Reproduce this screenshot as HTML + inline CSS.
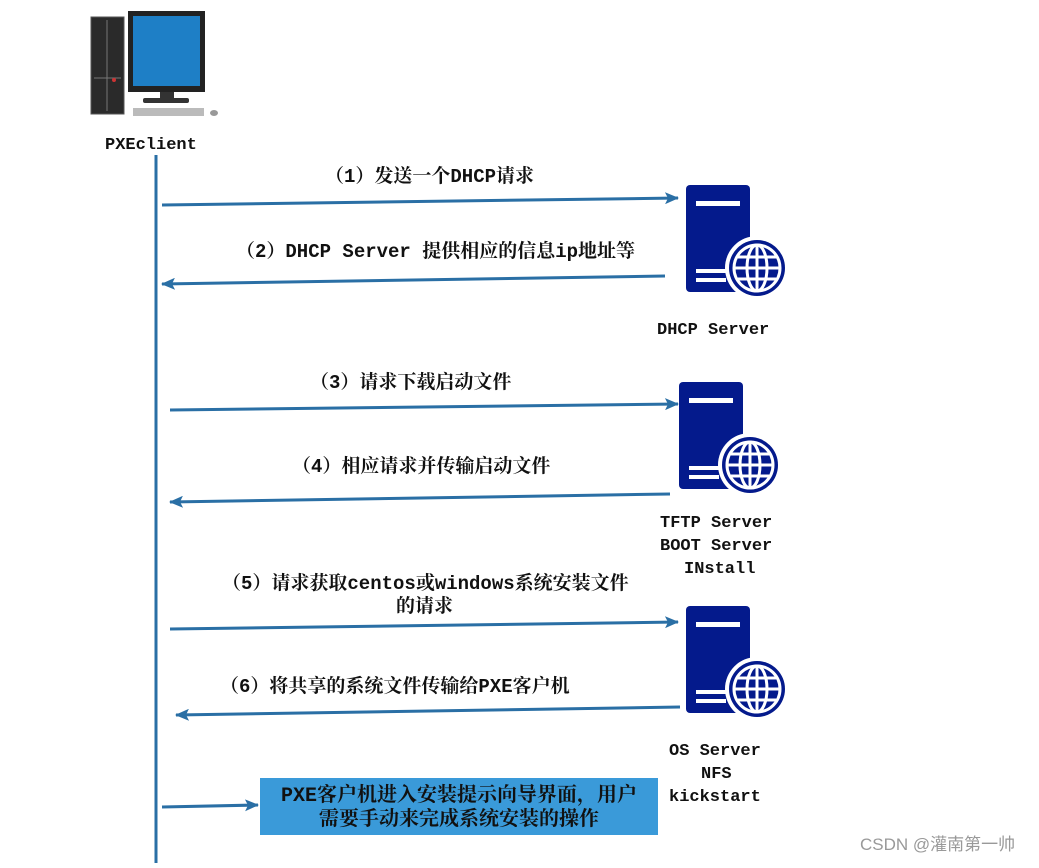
<!DOCTYPE html>
<html><head><meta charset="utf-8"><style>
body{margin:0;background:#fff;width:1039px;height:863px;overflow:hidden}
.t{font-family:"Liberation Mono","Noto Serif CJK SC",serif;font-weight:bold;font-size:19px;fill:#111}
.m{font-family:"Liberation Mono","Noto Sans CJK SC",monospace;font-weight:bold;font-size:17px;fill:#111}
</style></head><body>
<svg width="1039" height="863" viewBox="0 0 1039 863" xmlns="http://www.w3.org/2000/svg">
<defs>
<marker id="a" markerWidth="14" markerHeight="12" refX="13" refY="6" orient="auto" markerUnits="userSpaceOnUse"><path d="M0,0 L14,6 L0,12 L3,6 z" fill="#2a6fa5"/></marker>
<g id="srv">
<rect x="0" y="0" width="64" height="107" rx="4" fill="#041a8c"/>
<rect x="10" y="16" width="44" height="5" fill="#fff"/>
<rect x="10" y="84" width="30" height="4" fill="#fff"/>
<rect x="10" y="93" width="30" height="4" fill="#fff"/>
<circle cx="71" cy="83" r="32" fill="#fff"/>
<circle cx="71" cy="83" r="28" fill="#041a8c"/>
<circle cx="71" cy="83" r="23" fill="none" stroke="#fff" stroke-width="3"/>
<ellipse cx="71" cy="83" rx="10" ry="23" fill="none" stroke="#fff" stroke-width="3"/>
<line x1="71" y1="60" x2="71" y2="106" stroke="#fff" stroke-width="3"/>
<line x1="48" y1="83" x2="94" y2="83" stroke="#fff" stroke-width="3"/>
<line x1="52" y1="72" x2="90" y2="72" stroke="#fff" stroke-width="3"/>
<line x1="52" y1="94" x2="90" y2="94" stroke="#fff" stroke-width="3"/>
</g>
</defs>
<!-- PC -->
<rect x="91" y="17" width="33" height="97" fill="#2a2a2a" stroke="#555"/>
<line x1="107" y1="20" x2="107" y2="111" stroke="#777"/>
<line x1="94" y1="78" x2="121" y2="78" stroke="#777"/>
<circle cx="114" cy="80" r="2" fill="#c33"/>
<rect x="128" y="11" width="77" height="81" fill="#222"/>
<rect x="133" y="16" width="67" height="70" fill="#1e7fc6"/>
<rect x="160" y="92" width="14" height="8" fill="#333"/>
<rect x="143" y="98" width="46" height="5" rx="2" fill="#333"/>
<rect x="133" y="108" width="71" height="8" fill="#bbb"/>
<ellipse cx="214" cy="113" rx="4" ry="3" fill="#999"/>
<text class="m" x="105" y="149">PXEclient</text>
<line x1="156" y1="155" x2="156" y2="863" stroke="#2a6fa5" stroke-width="3"/>
<g stroke="#2a6fa5" stroke-width="3" marker-end="url(#a)">
<line x1="162" y1="205" x2="678" y2="198"/>
<line x1="665" y1="276" x2="162" y2="284"/>
<line x1="170" y1="410" x2="678" y2="404"/>
<line x1="670" y1="494" x2="170" y2="502"/>
<line x1="170" y1="629" x2="678" y2="622"/>
<line x1="680" y1="707" x2="176" y2="715"/>
<line x1="162" y1="807" x2="258" y2="805"/>
</g>
<use href="#srv" x="686" y="185"/>
<use href="#srv" x="679" y="382"/>
<use href="#srv" x="686" y="606"/>
<text class="t" x="325" y="182">（1）发送一个DHCP请求</text>
<text class="t" x="236" y="257">（2）DHCP Server 提供相应的信息ip地址等</text>
<text class="t" x="310" y="388">（3）请求下载启动文件</text>
<text class="t" x="292" y="472">（4）相应请求并传输启动文件</text>
<text class="t" x="222" y="589">（5）请求获取centos或windows系统安装文件</text>
<text class="t" x="396" y="612">的请求</text>
<text class="t" x="220" y="692">（6）将共享的系统文件传输给PXE客户机</text>
<text class="m" x="657" y="334">DHCP Server</text>
<text class="m" x="660" y="527">TFTP Server</text>
<text class="m" x="660" y="550">BOOT Server</text>
<text class="m" x="684" y="573">INstall</text>
<text class="m" x="669" y="755">OS Server</text>
<text class="m" x="701" y="778">NFS</text>
<text class="m" x="669" y="801">kickstart</text>
<rect x="260" y="778" width="398" height="57" fill="#3a9ad9"/>
<text class="t" x="459" y="801" text-anchor="middle" style="font-size:20px">PXE客户机进入安装提示向导界面，用户</text>
<text class="t" x="459" y="825" text-anchor="middle" style="font-size:20px">需要手动来完成系统安装的操作</text>
<text x="860" y="850" style="font-family:'Liberation Sans','Noto Sans CJK SC',sans-serif;font-size:17px;fill:#999">CSDN @灌南第一帅</text>
</svg>
</body></html>
